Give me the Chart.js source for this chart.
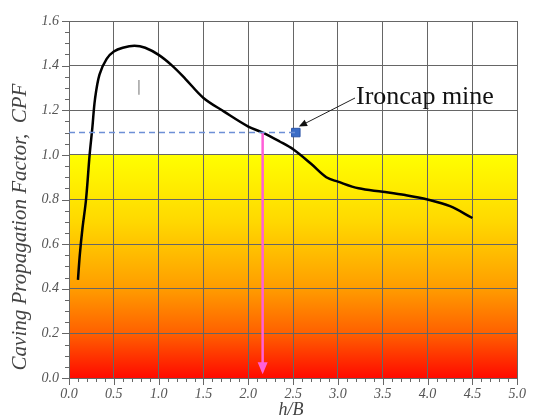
<!DOCTYPE html>
<html>
<head>
<meta charset="utf-8">
<script src="https://cdn.jsdelivr.net/npm/chart.js@4"></script>
<style>
  html, body { margin: 0; padding: 0; background: #fff; }
  #wrap { width: 534px; height: 417px; }
</style>
</head>
<body>
<div id="wrap"><canvas id="chart" width="534" height="417"></canvas></div>
<script>
// curve
const hb = [0.1, 0.12, 0.15, 0.19, 0.23, 0.26, 0.29, 0.34, 0.42, 0.5, 0.6, 0.73, 0.85, 1.0, 1.15, 1.3, 1.5, 1.73, 2.0, 2.16, 2.35, 2.5, 2.7, 2.87, 3.0, 3.23, 3.5, 3.75, 4.0, 4.25, 4.5];
const cpf = [0.44, 0.55, 0.67, 0.8, 1.0, 1.12, 1.25, 1.36, 1.43, 1.463, 1.48, 1.489, 1.48, 1.448, 1.40, 1.34, 1.255, 1.194, 1.127, 1.10, 1.06, 1.025, 0.96, 0.90, 0.88, 0.85, 0.835, 0.82, 0.80, 0.77, 0.717];

// Ironcap mine point + guide lines
const ironcapX = [2.53];
const ironcapY = [1.1];
const dashX = [0, 2.53];
const dashY = [1.1, 1.1];
const arrowX = [2.16, 2.16];
const arrowY = [1.1, 0.03];
const markX = [0.78, 0.78];
const markY = [1.336, 1.27];

const xTicks = ['0.0', '0.5', '1.0', '1.5', '2.0', '2.5', '3.0', '3.5', '4.0', '4.5', '5.0'];
const yTicks = ['0.0', '0.2', '0.4', '0.6', '0.8', '1.0', '1.2', '1.4', '1.6'];

function pts(xs, ys) {
  return xs.map((x, i) => ({ x: x, y: ys[i] }));
}

const serif = "'Liberation Serif', 'DejaVu Serif', serif";

const decor = {
  id: 'decor',
  beforeDraw(chart) {
    const { ctx, chartArea: a, scales: { x, y } } = chart;
    const y1 = y.getPixelForValue(1.0);
    const y0 = y.getPixelForValue(0);
    const g = ctx.createLinearGradient(0, y1, 0, y0);
    g.addColorStop(0, '#ffff00');
    g.addColorStop(0.3, '#ffd800');
    g.addColorStop(0.6, '#ff9c00');
    g.addColorStop(0.8, '#ff6000');
    g.addColorStop(1, '#ff0a00');
    ctx.save();
    ctx.fillStyle = g;
    ctx.fillRect(a.left, y1, a.right - a.left, y0 - y1);
    ctx.restore();
  },
  afterDraw(chart) {
    const { ctx, chartArea: a, scales: { x, y } } = chart;
    ctx.save();
    // minor / major ticks
    ctx.strokeStyle = '#666';
    ctx.lineWidth = 1;
    for (let i = 0; i <= 32; i++) {
      const py = Math.round(y.getPixelForValue(i * 0.05)) + 0.5;
      const len = i % 4 === 0 ? 7 : 4;
      ctx.beginPath();
      ctx.moveTo(a.left - len, py);
      ctx.lineTo(a.left, py);
      ctx.stroke();
    }
    for (let i = 0; i <= 50; i++) {
      const px = Math.round(x.getPixelForValue(i * 0.1)) + 0.5;
      const len = i % 5 === 0 ? 7 : 4;
      ctx.beginPath();
      ctx.moveTo(px, a.bottom);
      ctx.lineTo(px, a.bottom + len);
      ctx.stroke();
    }
    // pink arrow head
    const ax = x.getPixelForValue(arrowX[1]);
    const ay = y.getPixelForValue(arrowY[1]);
    ctx.fillStyle = '#ff5fd8';
    ctx.beginPath();
    ctx.moveTo(ax, ay + 3);
    ctx.lineTo(ax - 5, ay - 9);
    ctx.lineTo(ax + 5, ay - 9);
    ctx.closePath();
    ctx.fill();
    // label with leader arrow
    ctx.fillStyle = '#111';
    ctx.font = '26px ' + serif;
    ctx.textBaseline = 'alphabetic';
    ctx.textAlign = 'left';
    ctx.fillText('Ironcap mine', 356, 104);
    const tx = x.getPixelForValue(ironcapX[0]) + 3;
    const ty = y.getPixelForValue(ironcapY[0]) - 6;
    ctx.strokeStyle = '#222';
    ctx.lineWidth = 1;
    ctx.beginPath();
    ctx.moveTo(355, 98);
    ctx.lineTo(tx + 6, ty - 3);
    ctx.stroke();
    const ang = Math.atan2(ty - 98, tx - 355);
    ctx.fillStyle = '#111';
    ctx.beginPath();
    ctx.moveTo(tx, ty);
    ctx.lineTo(tx - 9 * Math.cos(ang - 0.4), ty - 9 * Math.sin(ang - 0.4));
    ctx.lineTo(tx - 9 * Math.cos(ang + 0.4), ty - 9 * Math.sin(ang + 0.4));
    ctx.closePath();
    ctx.fill();
    // axis titles
    ctx.fillStyle = '#444';
    ctx.font = 'italic 18px ' + serif;
    ctx.textAlign = 'center';
    ctx.textBaseline = 'top';
    ctx.fillText('h/B', 291, 401);
    ctx.font = 'italic 21px ' + serif;
    ctx.translate(20, 227);
    ctx.rotate(-Math.PI / 2);
    ctx.textBaseline = 'middle';
    ctx.fillText('Caving Propagation Factor,  CPF', 0, 0);
    ctx.restore();
  }
};

const ctx = document.getElementById('chart').getContext('2d');
const chart = new Chart(ctx, {
  type: 'scatter',
  data: {
    datasets: [
      {
        label: 'dash',
        data: pts(dashX, dashY),
        showLine: true,
        borderColor: '#6d8fd6',
        borderWidth: 1.5,
        borderDash: [6, 4],
        pointRadius: 0
      },
      {
        label: 'arrow',
        data: pts(arrowX, arrowY),
        showLine: true,
        borderColor: '#ff5fd8',
        borderWidth: 2.5,
        pointRadius: 0
      },
      {
        label: 'mark',
        data: pts(markX, markY),
        showLine: true,
        borderColor: '#a0a0a0',
        borderWidth: 1.5,
        pointRadius: 0
      },
      {
        label: 'CPF',
        data: pts(hb, cpf),
        showLine: true,
        borderColor: '#000',
        borderWidth: 2.5,
        tension: 0.35,
        pointRadius: 0
      },
      {
        label: 'Ironcap mine',
        data: pts(ironcapX, ironcapY),
        pointStyle: 'rect',
        pointRadius: 6,
        backgroundColor: '#3a6cc6',
        borderColor: '#2c55a8',
        borderWidth: 1
      }
    ]
  },
  options: {
    responsive: false,
    animation: false,
    layout: { padding: { top: 21, right: 10, left: 0, bottom: 0 } },
    plugins: { legend: { display: false }, tooltip: { enabled: false } },
    scales: {
      x: {
        type: 'linear',
        min: 0,
        max: 5,
        afterFit(s) { s.height = 39; },
        afterBuildTicks(s) { s.ticks = xTicks.map(t => ({ value: parseFloat(t) })); },
        ticks: {
          color: '#555',
          padding: 8,
          font: { family: serif, size: 14, style: 'italic' },
          callback: (v) => xTicks.find(t => parseFloat(t) === v)
        },
        grid: { color: '#666', lineWidth: 1, drawTicks: false },
        border: { color: '#666' }
      },
      y: {
        type: 'linear',
        min: 0,
        max: 1.6,
        afterFit(s) { s.width = 69; },
        afterBuildTicks(s) { s.ticks = yTicks.map(t => ({ value: parseFloat(t) })); },
        ticks: {
          color: '#555',
          padding: 10,
          font: { family: serif, size: 14, style: 'italic' },
          callback: (v) => yTicks.find(t => Math.abs(parseFloat(t) - v) < 1e-6)
        },
        grid: { color: '#666', lineWidth: 1, drawTicks: false },
        border: { color: '#666' }
      }
    }
  },
  plugins: [decor]
});
</script>
</body>
</html>
